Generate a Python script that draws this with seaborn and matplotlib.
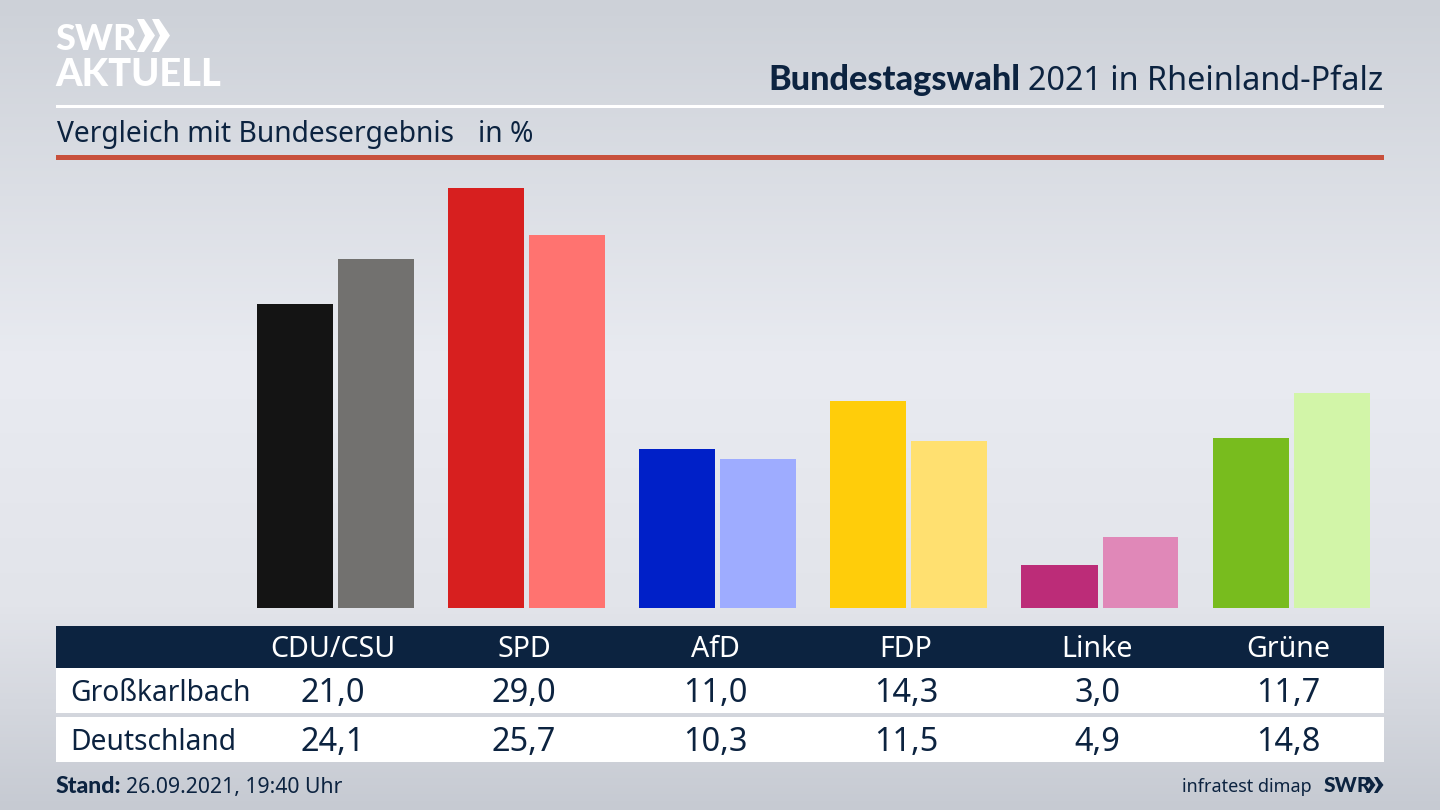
import numpy as np
import pandas as pd
import matplotlib
matplotlib.use("Agg")
import matplotlib.pyplot as plt
from matplotlib.colors import LinearSegmentedColormap
from matplotlib.patches import Rectangle, Polygon
import seaborn as sns

parties = ["CDU/CSU", "SPD", "AfD", "FDP", "Linke", "Grüne"]
grosskarlbach = [21.0, 29.0, 11.0, 14.3, 3.0, 11.7]
deutschland = [24.1, 25.7, 10.3, 11.5, 4.9, 14.8]
regions = ["Großkarlbach", "Deutschland"]
colors_local = ["#141414", "#d71f1f", "#0020c8", "#ffcd0a", "#bc2c78", "#78bc1e"]
colors_national = ["#72716f", "#ff7370", "#9eacff", "#ffe070", "#e088b8", "#d2f5a8"]

NAVY = "#0c2340"
W, H = 1440, 810
sns.set_theme(style="white")
plt.rcParams["font.family"] = ["Noto Sans", "DejaVu Sans"]
fig = plt.figure(figsize=(W / 100, H / 100), dpi=100)

def fs(px):
    return px * 0.72

BOLD = "Lato"

bg = fig.add_axes([0, 0, 1, 1], zorder=0)
bg.set_xlim(0, W); bg.set_ylim(H, 0); bg.axis("off")
cmap = LinearSegmentedColormap.from_list("bg", [(0, "#cdd1d8"), (0.45, "#e9ebf1"), (0.75, "#e2e4ea"), (1, "#c6cad2")])
bg.imshow(np.linspace(0, 1, 256)[:, None], cmap=cmap, extent=(0, W, H, 0), aspect="auto", vmin=0, vmax=1)
bg.set_xlim(0, W); bg.set_ylim(H, 0)

bg.add_patch(Rectangle((56, 105), 1328, 2.5, color="white", lw=0))
bg.add_patch(Rectangle((56, 155), 1328, 5, color="#c8503c", lw=0))
bg.add_patch(Rectangle((56, 626), 1328, 42, color=NAVY, lw=0))
bg.add_patch(Rectangle((56, 668), 1328, 45, color="white", lw=0))
bg.add_patch(Rectangle((56, 717), 1328, 45, color="white", lw=0))

# logo
bg.text(55, 50, "SWR", color="white", fontsize=fs(36), fontweight="black", va="baseline", ha="left", family=BOLD)
bg.text(55, 86, "AKTUELL", color="white", fontsize=fs(38), fontweight="black", va="baseline", ha="left", family=BOLD)
for x0 in (137, 152):
    bg.add_patch(Polygon([(x0, 19), (x0 + 7, 19), (x0 + 18, 35.5), (x0 + 7, 52), (x0, 52), (x0 + 8, 35.5)], color="white", lw=0))

# titles
bg.text(1383, 90, "2021 in Rheinland-Pfalz", color=NAVY, fontsize=fs(32.4), va="baseline", ha="right")
bg.text(1020, 90, "Bundestagswahl", color=NAVY, fontsize=fs(34.3), fontweight="black", va="baseline", ha="right", family=BOLD)
bg.text(57, 142, "Vergleich mit Bundesergebnis", color=NAVY, fontsize=fs(28.2), va="baseline", ha="left")
bg.text(478, 142, "in %", color=NAVY, fontsize=fs(28.2), va="baseline", ha="left")

# table
centers = [333 + 191 * i for i in range(len(parties))]
for cx, p, a, b in zip(centers, parties, grosskarlbach, deutschland):
    bg.text(cx, 657, p, color="white", fontsize=fs(28.6), ha="center", va="baseline")
    bg.text(cx, 702, f"{a:.1f}".replace(".", ","), color=NAVY, fontsize=fs(32.5), ha="center", va="baseline")
    bg.text(cx, 751, f"{b:.1f}".replace(".", ","), color=NAVY, fontsize=fs(32.5), ha="center", va="baseline")
bg.text(70, 701, regions[0], color=NAVY, fontsize=fs(28.2), ha="left", va="baseline")
bg.text(70, 750, regions[1], color=NAVY, fontsize=fs(28.2), ha="left", va="baseline")

# footer
bg.text(56, 793, "Stand:", color=NAVY, fontsize=fs(23), fontweight="black", ha="left", va="baseline", family=BOLD)
bg.text(126, 793, "26.09.2021, 19:40 Uhr", color=NAVY, fontsize=fs(21.2), ha="left", va="baseline")
bg.text(1312, 792, "infratest dimap", color=NAVY, fontsize=fs(18), ha="right", va="baseline")
bg.text(1324, 792, "SWR", color=NAVY, fontsize=fs(21), fontweight="black", ha="left", va="baseline", family=BOLD)
for x0 in (1366, 1374):
    bg.add_patch(Polygon([(x0, 777), (x0 + 3.5, 777), (x0 + 9.5, 785), (x0 + 3.5, 793), (x0, 793), (x0 + 4.5, 785)], color=NAVY, lw=0))

# bars
df = pd.DataFrame({
    "party": parties * 2,
    "region": [regions[0]] * 6 + [regions[1]] * 6,
    "value": grosskarlbach + deutschland,
})
ax = fig.add_axes([56 / W, (H - 608) / H, 1328 / W, 448 / H], zorder=1)
ax.patch.set_alpha(0)
sns.barplot(data=df, x="party", y="value", hue="region", order=parties, hue_order=regions,
            width=162 / 191.1, gap=5 / 81, legend=False, ax=ax, errorbar=None, saturation=1)
for cont, cols in zip(ax.containers, (colors_local, colors_national)):
    for bar, c in zip(cont, cols):
        bar.set_facecolor(c)
        bar.set_edgecolor("none")
ax.set_xlim((56 - 335.6) / 191.1, (1384 - 335.6) / 191.1)
ax.set_ylim(0, 448 / 14.5)
ax.axis("off")

fig.savefig("out.png", dpi=100)
